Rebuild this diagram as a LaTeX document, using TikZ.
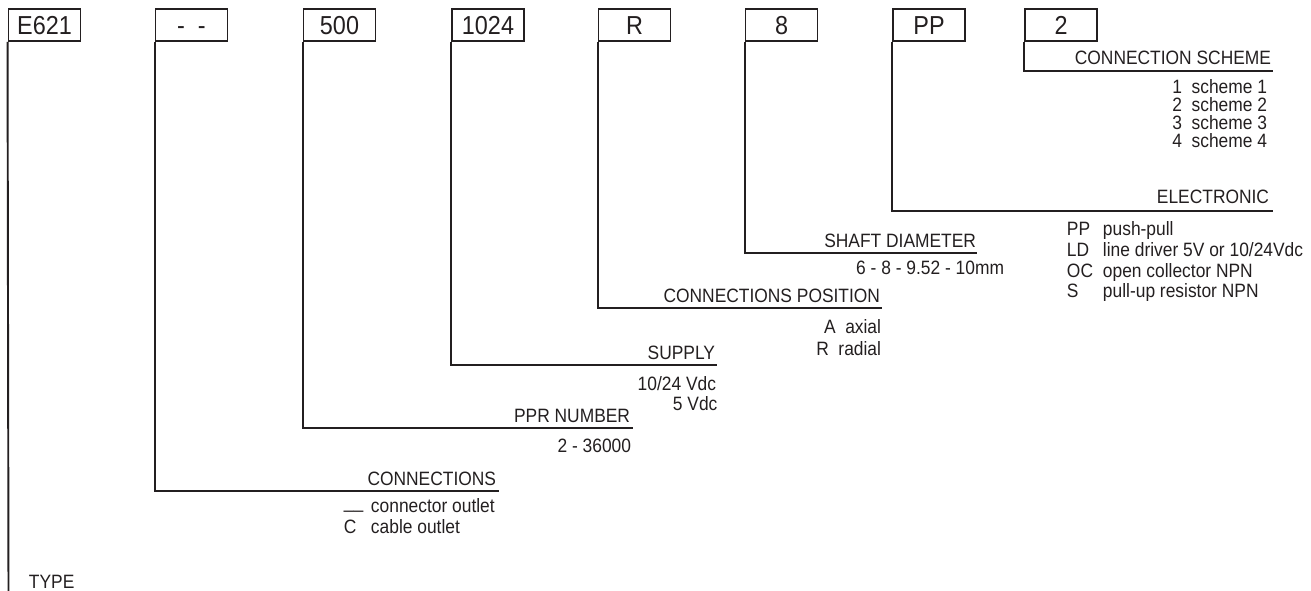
\documentclass[tikz,border=0pt]{standalone}
\usepackage{fontspec}
\setmainfont[FakeStretch=0.9]{Liberation Sans}
\definecolor{ink}{HTML}{231F20}

\begin{document}
\begin{tikzpicture}[
  x=0.02cm,y=-0.02cm,
  line width=1.1pt,draw=ink,text=ink,
  code/.style={rectangle,draw=ink,line width=1.1pt,minimum width=1.44cm,minimum height=0.64cm,inner sep=0pt,text height=10.6pt,text depth=0pt,font=\fontsize{14.8}{17}\selectfont},
  head/.style={anchor=base east,inner sep=0pt,font=\fontsize{11}{13}\selectfont},
  item/.style={anchor=base east,inner sep=0pt,font=\fontsize{11}{13}\selectfont},
  itemw/.style={item,anchor=base west}]

\useasboundingbox (0,0) rectangle (1311,591);

\node[code] (type)  at (44.5,25)  {E621};
\node[code] (conn)  at (191.5,25) {-\ \ -};
\node[code] (ppr)   at (339.5,25) {500};
\node[code] (sup)   at (488,25)   {1024};
\node[code] (pos)   at (634.5,25) {R};
\node[code] (shaft) at (781.5,25) {8};
\node[code] (elec)  at (929,25)   {PP};
\node[code] (sch)   at (1061,25)  {2};

\coordinate (typeend)  at (8.5,591);
\coordinate (connend)  at (499,491);
\coordinate (pprend)   at (633,428);
\coordinate (supend)   at (717,365);
\coordinate (posend)   at (882,308);
\coordinate (shaftend) at (977,253);
\coordinate (elecend)  at (1273,211);
\coordinate (schend)   at (1273,71);

\draw (type.south west) -- (typeend);
\draw (conn.south west) |- (connend);
\draw (ppr.south west) |- (pprend);
\draw (sup.south west) |- (supend);
\draw (pos.south west) |- (posend);
\draw (shaft.south west) |- (shaftend);
\draw (elec.south west) |- (elecend);
\draw (sch.south west) |- (schend);

\node[itemw] (ttype) at (28,588) {TYPE};

\node[head] (tconn) at (497,485) {CONNECTIONS};
\node[itemw] (cn1a) at (343,512) {\raisebox{2.2pt}{\_\_}};
\node[itemw] (cn1b) at (370,512) {connector outlet};
\node[itemw] (cn2a) at (343,533) {C};
\node[itemw] (cn2b) at (370,533) {cable outlet};

\node[head] (tppr) at (631,422) {PPR NUMBER};
\node[item] (pp1) at (632,452) {2 - 36000};

\node[head] (tsup) at (716,359) {SUPPLY};
\node[item] (sp1) at (717,390) {10/24 Vdc};
\node[itemw] (sp2) at (672,410) {5 Vdc};

\node[head] (tpos) at (881,302) {CONNECTIONS POSITION};
\node[item] (ps1) at (882,333) {A\ \ axial};
\node[item] (ps2) at (882,355) {R\ \ radial};

\node[head] (tshaft) at (977,248) {SHAFT DIAMETER};
\node[item] (sh1) at (1005,275) {6 - 8 - 9.52 - 10mm};

\node[head] (telec) at (1270,204) {ELECTRONIC};
\foreach \c/\d [count=\i] in {PP/{push-pull},LD/{line driver 5V or 10/24Vdc},OC/{open collector NPN},S/{pull-up resistor NPN}}{
  \node[itemw] (ec\i) at (1066,215+20.7*\i) {\c};
  \node[itemw] (ed\i) at (1102,215+20.7*\i) {\d};
}

\node[head] (tsch) at (1272,65) {CONNECTION SCHEME};
\foreach \i in {1,...,4}{
  \node[item] (sc\i) at (1268,76+18*\i) {\i\ \ scheme \i};
}
\end{tikzpicture}
\end{document}
